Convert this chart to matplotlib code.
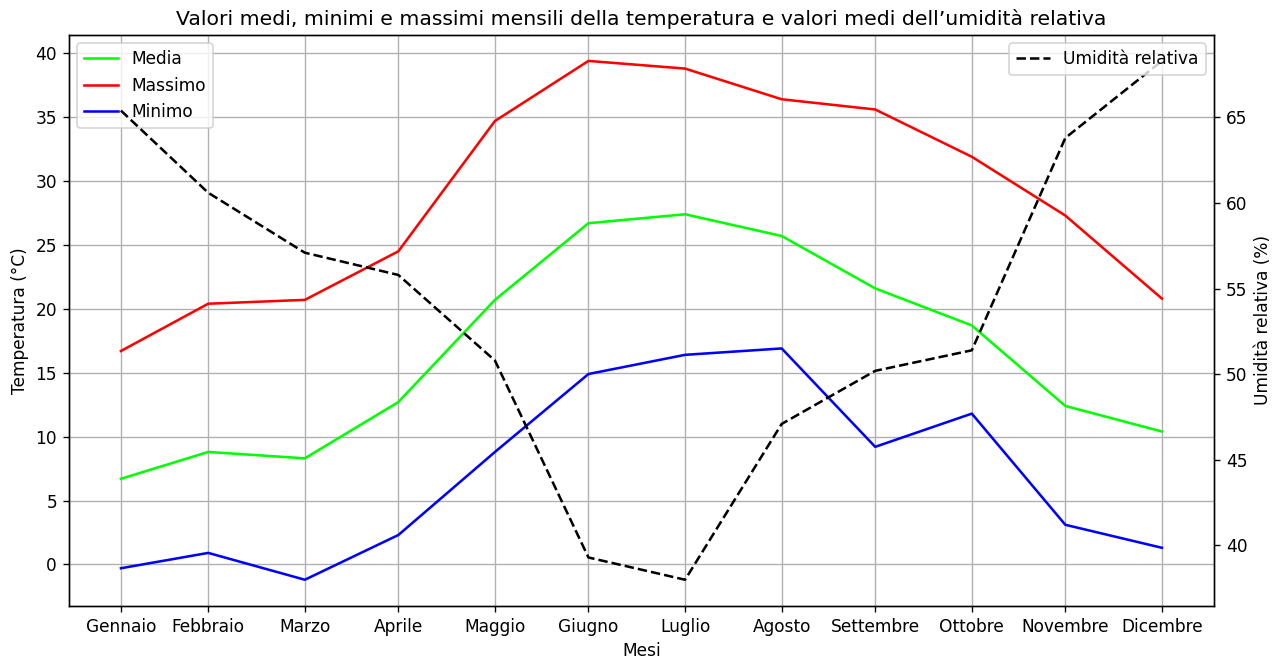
import matplotlib
matplotlib.use('Agg')
import matplotlib.pyplot as plt
import pandas as pd

# dati mensili (x = fine mese)
date_mesi = ['2023-01-31', '2023-02-28', '2023-03-31', '2023-04-30', '2023-05-31', '2023-06-30',
             '2023-07-31', '2023-08-31', '2023-09-30', '2023-10-31', '2023-11-30', '2023-12-31']
nomi_mesi = ['Gennaio', 'Febbraio', 'Marzo', 'Aprile', 'Maggio', 'Giugno',
             'Luglio', 'Agosto', 'Settembre', 'Ottobre', 'Novembre', 'Dicembre']

t_media = [6.7, 8.8, 8.3, 12.7, 20.7, 26.7, 27.4, 25.7, 21.6, 18.7, 12.4, 10.4]
t_max = [16.7, 20.4, 20.7, 24.5, 34.7, 39.4, 38.8, 36.4, 35.6, 31.9, 27.3, 20.8]
t_min = [-0.3, 0.9, -1.2, 2.3, 8.8, 14.9, 16.4, 16.9, 9.2, 11.8, 3.1, 1.3]
umidita = [65.4, 60.6, 57.1, 55.8, 50.8, 39.3, 38.0, 47.1, 50.2, 51.4, 63.8, 68.3]

x = pd.to_datetime(date_mesi)

dpi = 122
fig, ax1 = plt.subplots(figsize=(1276 / dpi, 660 / dpi), dpi=dpi)
fig.subplots_adjust(left=0.054, right=0.9514, top=0.947, bottom=0.0823)

ax1.plot(x, t_media, color='#00ff00', label='Media')
ax1.plot(x, t_max, color='#ff0000', label='Massimo')
ax1.plot(x, t_min, color='#0000ff', label='Minimo')
ax1.set_xlabel('Mesi')
ax1.set_ylabel('Temperatura (°C)')
ax1.set_xticks(x)
ax1.set_xticklabels(nomi_mesi)
ax1.grid(True)
ax1.legend(loc='upper left')

ax2 = ax1.twinx()
ax2.plot(x, umidita, color='black', linestyle='--', label='Umidità relativa')
ax2.set_ylabel('Umidità relativa (%)')
ax2.legend(loc='upper right')

ax1.set_title('Valori medi, minimi e massimi mensili della temperatura e valori medi dell\u2019umidità relativa')

plt.savefig('out.png', dpi=dpi)
